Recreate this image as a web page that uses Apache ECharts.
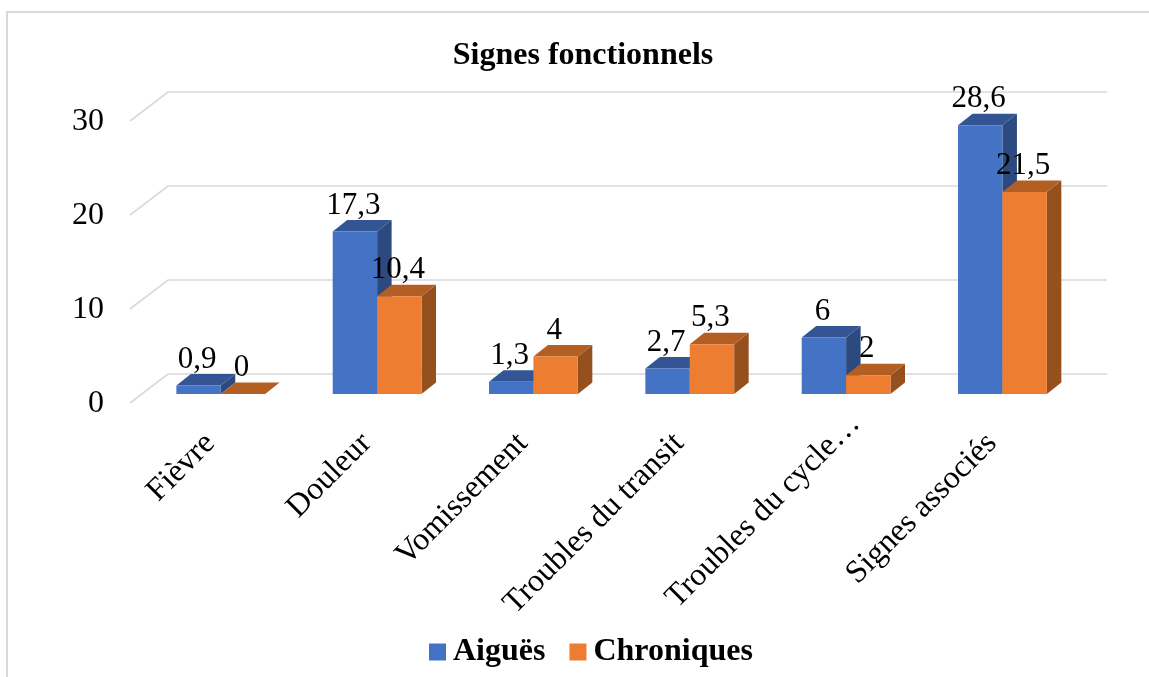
<!DOCTYPE html>
<html><head><meta charset="utf-8">
<style>html,body{margin:0;padding:0;background:#fff}#c{width:1149px;height:677px}</style>
<script src="https://cdn.jsdelivr.net/npm/echarts@6/dist/echarts.min.js"></script>
</head><body><div id="c"></div>
<script>
const categories = ['Fièvre','Douleur','Vomissement','Troubles du transit','Troubles du cycle…','Signes associés'];
const aigues = [0.9,17.3,1.3,2.7,6,28.6];
const chroniques = [0,10.4,4,5.3,2,21.5];
const ticks = [0,10,20,30];

const DX=14.5, DY=11.5, BW=44.4;
const FONT='"Liberation Serif","Times New Roman",serif';
const chart=echarts.init(document.getElementById('c'),null,{renderer:'canvas'});
function bar(name,values,offset,front,top,side){
  return {name,type:'custom',coordinateSystem:'cartesian2d',xAxisIndex:0,yAxisIndex:0,z:3,
    data:values.map((v,i)=>[i,v]),
    encode:{x:0,y:1},
    itemStyle:{color:front},
    renderItem(params,api){
      const p=api.coord([api.value(0),api.value(1)]);
      const b=api.coord([api.value(0),0]);
      const x0=p[0]+offset*BW, x1=x0+BW, yt=p[1], yb=b[1];
      const v=api.value(1);
      return {type:'group',children:[
        {type:'polygon',shape:{points:[[x1,yt],[x1+DX,yt-DY],[x1+DX,yb-DY],[x1,yb]]},style:{fill:side}},
        {type:'polygon',shape:{points:[[x0,yt],[x0+DX,yt-DY],[x1+DX,yt-DY],[x1,yt]]},style:{fill:top}},
        {type:'rect',shape:{x:x0,y:yt,width:BW,height:yb-yt},style:{fill:front}},
        {type:'text',z2:100,style:{x:(x0+x1)/2-1.5,y:yt-26,text:String(v).replace('.',','),align:'center',verticalAlign:'middle',
          font:'31px '+FONT,fill:'#000'}}
      ]};
    }};
}
chart.setOption({
  animation:false,
  backgroundColor:'#fff',
  title:{text:'Signes fonctionnels',left:578,top:51,textAlign:'center',textVerticalAlign:'middle',
    textStyle:{fontFamily:FONT,fontWeight:'bold',fontSize:32,color:'#000'}},
  legend:{bottom:9,left:429,padding:0,icon:'rect',itemWidth:17,itemHeight:17,itemGap:24,
    data:['Aiguës','Chroniques'],
    textStyle:{fontFamily:FONT,fontWeight:'bold',fontSize:32,color:'#000',padding:[0,0,0,2]}},
  grid:[
    {left:142.6,top:112,width:938,height:282},
    {left:113,top:121.5,width:900,height:282.5}
  ],
  xAxis:[
    {type:'category',gridIndex:0,
     data:categories.map((c,i)=>i===4?{value:c,textStyle:{padding:[0,-13,0,0]}}:c),
     axisLine:{show:false},axisTick:{show:false},
     axisLabel:{interval:0,rotate:45,fontFamily:FONT,fontSize:32,color:'#000',margin:34,hideOverlap:false,padding:[0,15,0,0]}},
    {type:'category',gridIndex:1,show:false,data:categories}
  ],
  yAxis:[
    {type:'value',gridIndex:0,min:0,max:30,interval:10,show:false},
    {type:'value',gridIndex:1,min:0,max:30,interval:10,splitLine:{show:false},axisLine:{show:false},axisTick:{show:false},
     axisLabel:{fontFamily:FONT,fontSize:32,color:'#000',margin:9}}
  ],
  series:[
    {type:'custom',name:'grille',coordinateSystem:'cartesian2d',xAxisIndex:0,yAxisIndex:0,z:1,silent:true,
     data:ticks.map(t=>[0,t]),encode:{x:0,y:1},
     renderItem(params,api){
       const y=api.coord([0,api.value(1)])[1];
       const g=params.coordSys;
       const bx=g.x+25.4, fx=g.x-12.6, rx=g.x+g.width+26.4;
       return {type:'polyline',shape:{points:[[fx,y+9],[bx,y-20],[rx,y-20]]},style:{fill:null,stroke:'#d9d9d9',lineWidth:1.6}};
     }},
    bar('Aiguës',aigues,-1,'#4472c4','#335593','#2c4a80'),
    bar('Chroniques',chroniques,0,'#ed7d31','#b35f24','#96501e')
  ],
  graphic:[{type:'polyline',silent:true,shape:{points:[[7,677],[7,12],[1149,12]]},style:{fill:null,stroke:'#d9d9d9',lineWidth:2}}]
});
</script></body></html>
